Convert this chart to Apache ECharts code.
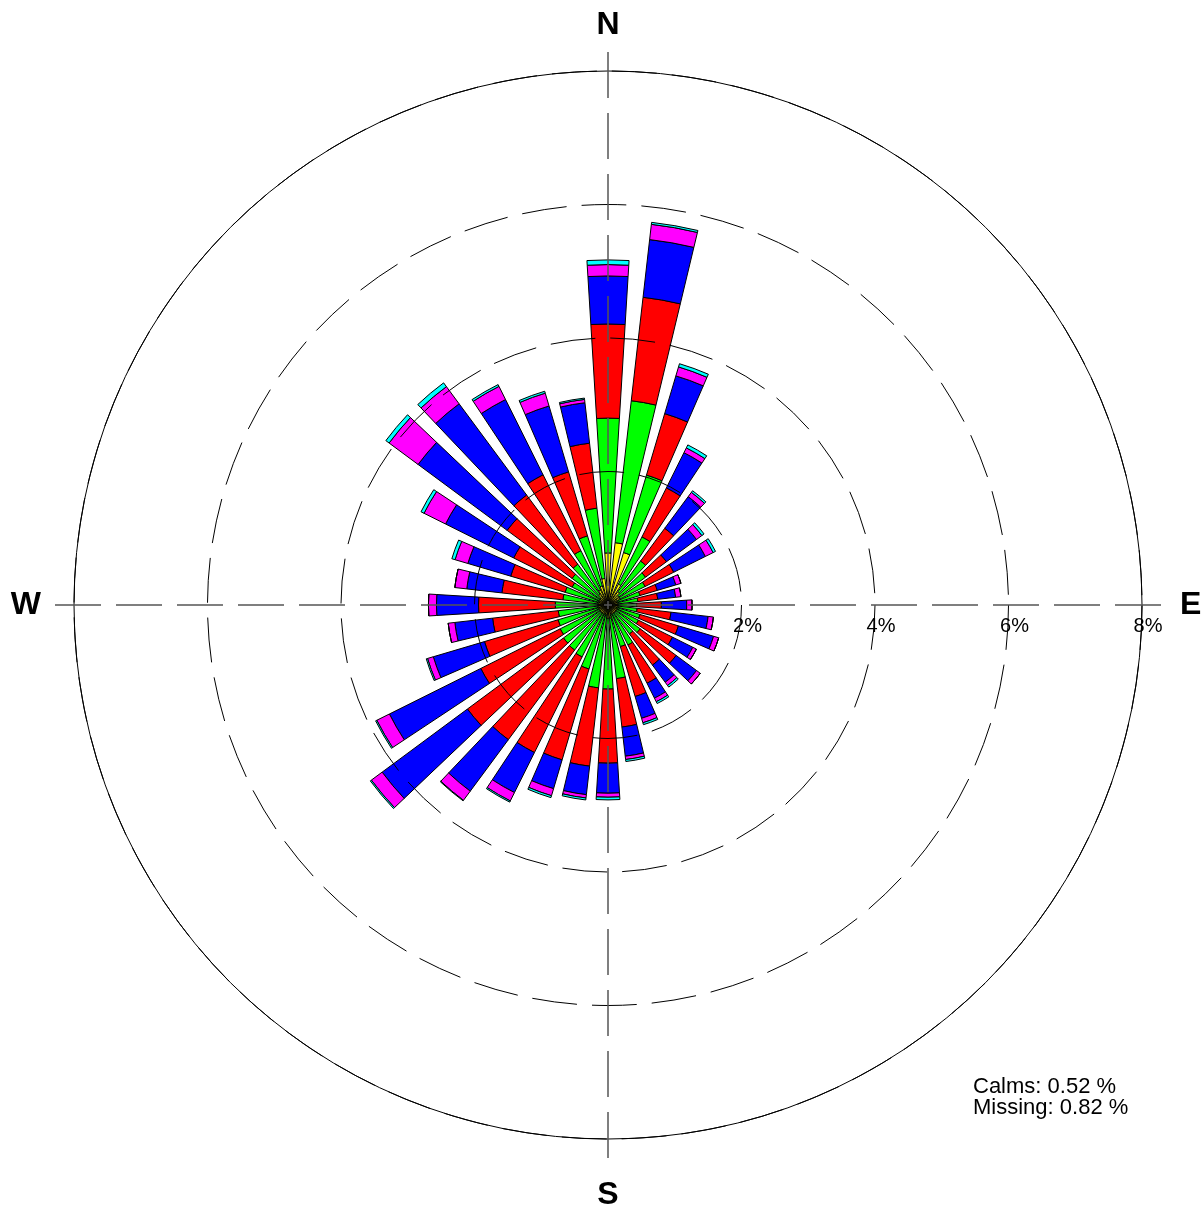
<!DOCTYPE html>
<html><head><meta charset="utf-8">
<script src="https://cdn.jsdelivr.net/npm/echarts@6/dist/echarts.min.js"></script>
<style>html,body{margin:0;padding:0;background:#fff}#c{width:1203px;height:1211px}</style>
</head><body><div id="c"></div>
<script>
// Directions (degrees, clockwise from north), first = 360 (N)
const directions = ['N','10','20','30','40','50','60','70','80','E','100','110','120','130','140','150','160','170','S','190','200','210','220','230','240','250','260','W','280','290','300','310','320','330','340','350'];
const speedClasses = ['0.5 - 2.1 m/s','2.1 - 3.6 m/s','3.6 - 5.7 m/s','5.7 - 8.8 m/s','8.8 - 11.1 m/s','>= 11.1 m/s'];
const classColors = ['#ffff00','#00ff00','#ff0000','#0000ff','#ff00ff','#00ffff'];
// frequency (%) per speed class, per direction
const freqClass1 = [.78,.94,.82,.35,.25,.20,.20,.15,.15,.15,.15,.15,.15,.15,.15,.15,.15,.20,.20,.15,.15,.15,.15,.15,.15,.15,.15,.15,.15,.15,.15,.15,.20,.25,.30,.40];
const freqClass2 = [2.02,2.14,1.21,.79,.57,.50,.42,.35,.30,.28,.29,.35,.36,.45,.39,.52,.50,.91,1.06,1.10,.85,.72,.69,.68,.65,.63,.60,.64,.53,.52,.45,.52,.56,.66,.78,1.06];
const freqClass3 = [1.41,1.56,.96,.82,.61,.39,.48,.27,.30,.37,.51,.60,.57,.67,.58,.64,.78,.73,1.11,1.18,1.42,1.60,1.67,1.79,1.33,1.15,.99,1.15,.92,.85,.98,1.21,1.29,1.27,1.00,.98];
const freqClass4 = [.72,.87,.59,.59,.59,.56,.53,.29,.27,.38,.56,.55,.34,.38,.32,.25,.34,.44,.45,.43,.45,.67,.96,1.59,1.53,.80,.57,.63,.53,.67,1.14,1.66,1.70,1.26,1.03,.61];
const freqClass5 = [.17,.23,.14,.08,.08,.10,.13,.08,.08,.08,.08,.08,.06,.07,.06,.06,.07,.05,.06,.05,.11,.14,.17,.20,.21,.09,.10,.12,.18,.20,.36,.54,.32,.22,.20,.05];
const freqClass6 = [.07,.03,.05,.05,.03,.04,.04,0,0,0,0,0,0,0,.03,.03,.03,.03,.04,.03,.03,.02,.01,.02,.02,.02,0,0,0,.05,.05,.06,.07,.03,.03,.02];
const radiusTicks = [2,4,6,8];
const calms = 0.52, missing = 0.82;

const FONT = 'Liberation Sans, Arial, sans-serif';
const CENTER = [608, 605], R = 534, RX = 553;
const compass = {N:'{n|N}', E:'{e|E}', S:'{s|S}', W:'{w|W}'};
const classData = [freqClass1,freqClass2,freqClass3,freqClass4,freqClass5,freqClass6];
const dirStyle = {fontSize:32, fontWeight:'bold', color:'#000', fontFamily:FONT};

const chart = echarts.init(document.getElementById('c'), null, {renderer:'canvas'});
chart.setOption({
  animation:false,
  backgroundColor:'#fff',
  title:{
    text:'Calms: ' + calms.toFixed(2) + ' %\nMissing: ' + missing.toFixed(2) + ' %',
    left:968, top:1071,
    textStyle:{fontFamily:FONT, fontSize:22, fontWeight:'normal', color:'#000', lineHeight:21}
  },
  polar:[
    {center:CENTER, radius:R},
    {center:CENTER, radius:RX}
  ],
  angleAxis:[
    {polarIndex:0, type:'category', data:directions, startAngle:95, clockwise:true, boundaryGap:true, z:1,
     axisLine:{show:true, lineStyle:{color:'#000', width:1}},
     axisTick:{show:false}, splitLine:{show:false},
     axisLabel:{show:true, interval:0, margin:30, formatter:v => compass[v] || '',
       rich:{
         n:Object.assign({}, dirStyle),
         s:Object.assign({padding:[10,0,0,0]}, dirStyle),
         e:Object.assign({padding:[0,0,0,8]}, dirStyle),
         w:Object.assign({padding:[0,3,0,0]}, dirStyle)
       }}},
    {polarIndex:1, type:'value', min:0, max:360, interval:90, startAngle:0, z:6,
     axisLine:{show:false}, axisTick:{show:false}, axisLabel:{show:false},
     splitLine:{show:true, lineStyle:{color:'#555', width:1.5, type:[46,15]}}}
  ],
  radiusAxis:[
    {polarIndex:0, type:'value', min:0, max:8, interval:2, z:6,
     axisLine:{show:false}, axisTick:{show:false}, axisLabel:{show:false},
     splitLine:{show:true, lineStyle:{color:'#000', width:1, type:[45,15]}}},
    {polarIndex:1, type:'value', min:0, max:8*RX/R, interval:2, z:6,
     axisLine:{show:false}, axisTick:{show:false}, splitLine:{show:false},
     axisLabel:{show:true, margin:-11, verticalAlign:'top', fontSize:20, color:'#000', fontFamily:FONT,
       padding:[0,0,0,12],
       formatter:v => radiusTicks.indexOf(Math.round(v*1000)/1000) >= 0 ? v + '%' : ''}}
  ],
  series: classData.map((d, i) => ({
    type:'bar', name:speedClasses[i], coordinateSystem:'polar', polarIndex:0,
    stack:'rose', data:d, barCategoryGap:'30%', z:2,
    itemStyle:{color:classColors[i], borderColor:'#000', borderWidth:1}
  }))
});
</script>
</body></html>
